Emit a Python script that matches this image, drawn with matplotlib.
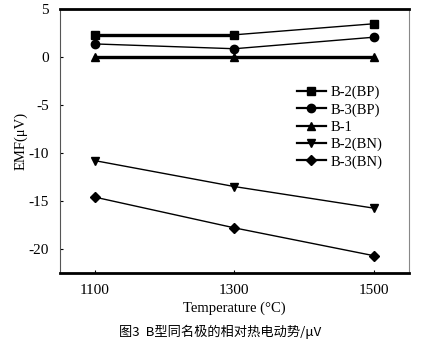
import matplotlib
matplotlib.use("Agg")
import matplotlib.pyplot as plt

plt.rcParams['font.family'] = ['Liberation Serif', 'DejaVu Serif']
plt.rcParams['mathtext.fontset'] = 'stix'

# datos
temp = [1100, 1300, 1500]
b2_bp = [2.3, 2.3, 3.45]
b3_bp = [1.35, 0.85, 2.05]
b1 = [0, 0, 0]
b2_bn = [-10.8, -13.5, -15.75]
b3_bn = [-14.6, -17.8, -20.7]

etiquetas = ['B-2(BP)', 'B-3(BP)', 'B-1', 'B-2(BN)', 'B-3(BN)']
marcadores = ['s', 'o', '^', 'v', 'D']
series = [b2_bp, b3_bp, b1, b2_bn, b3_bn]
anchos = [1.0, 1.0, 2.4, 1.0, 1.0]
yticks = [5, 0, -5, -10, -15, -20]
xticks = [1100, 1300, 1500]

fig = plt.figure(figsize=(4.41, 3.48), dpi=100)
ax = fig.add_axes([0.136, 0.2155, 0.791, 0.759])

for y, lab, m, lw in zip(series, etiquetas, marcadores, anchos):
    ax.plot(temp, y, color='black', marker=m, markersize=6 if m != 'D' else 5.2,
            linewidth=lw, label=lab)

# tramo grueso de B-2(BP)
ax.plot(temp[:2], b2_bp[:2], color='black', linewidth=2.4)

ax.set_xlim(1050, 1550)
ax.set_ylim(-22.5, 5)
ax.set_xticks(xticks)
ax.set_yticks(yticks)
ax.set_yticklabels([str(v) for v in yticks])
ax.tick_params(axis='both', labelsize=11, length=2, direction='in', pad=8)

ax.spines['top'].set_linewidth(2)
ax.spines['bottom'].set_linewidth(2)
ax.spines['left'].set_linewidth(0.8)
ax.spines['left'].set_color('#555555')
ax.spines['right'].set_linewidth(0.8)
ax.spines['right'].set_color('#888888')

ax.set_xlabel('Temperature (°C)', fontsize=10.5, labelpad=3)
ax.set_ylabel('EMF(μV)', fontsize=10.5, labelpad=0.5)

leg = ax.legend(loc='upper left', bbox_to_anchor=(0.658, 0.737), frameon=False, fontsize=10.5,
                handlelength=2.0, handletextpad=0.35, labelspacing=0.27, borderpad=0)
for h in leg.get_lines():
    h.set_linewidth(1.6)

fig.text(0.5, 0.045, '图3  B型同名极的相对热电动势/μV', ha='center', va='center',
         fontsize=9.5, family=['Noto Sans CJK SC', 'DejaVu Sans'])

fig.savefig('out.png', dpi=100)
